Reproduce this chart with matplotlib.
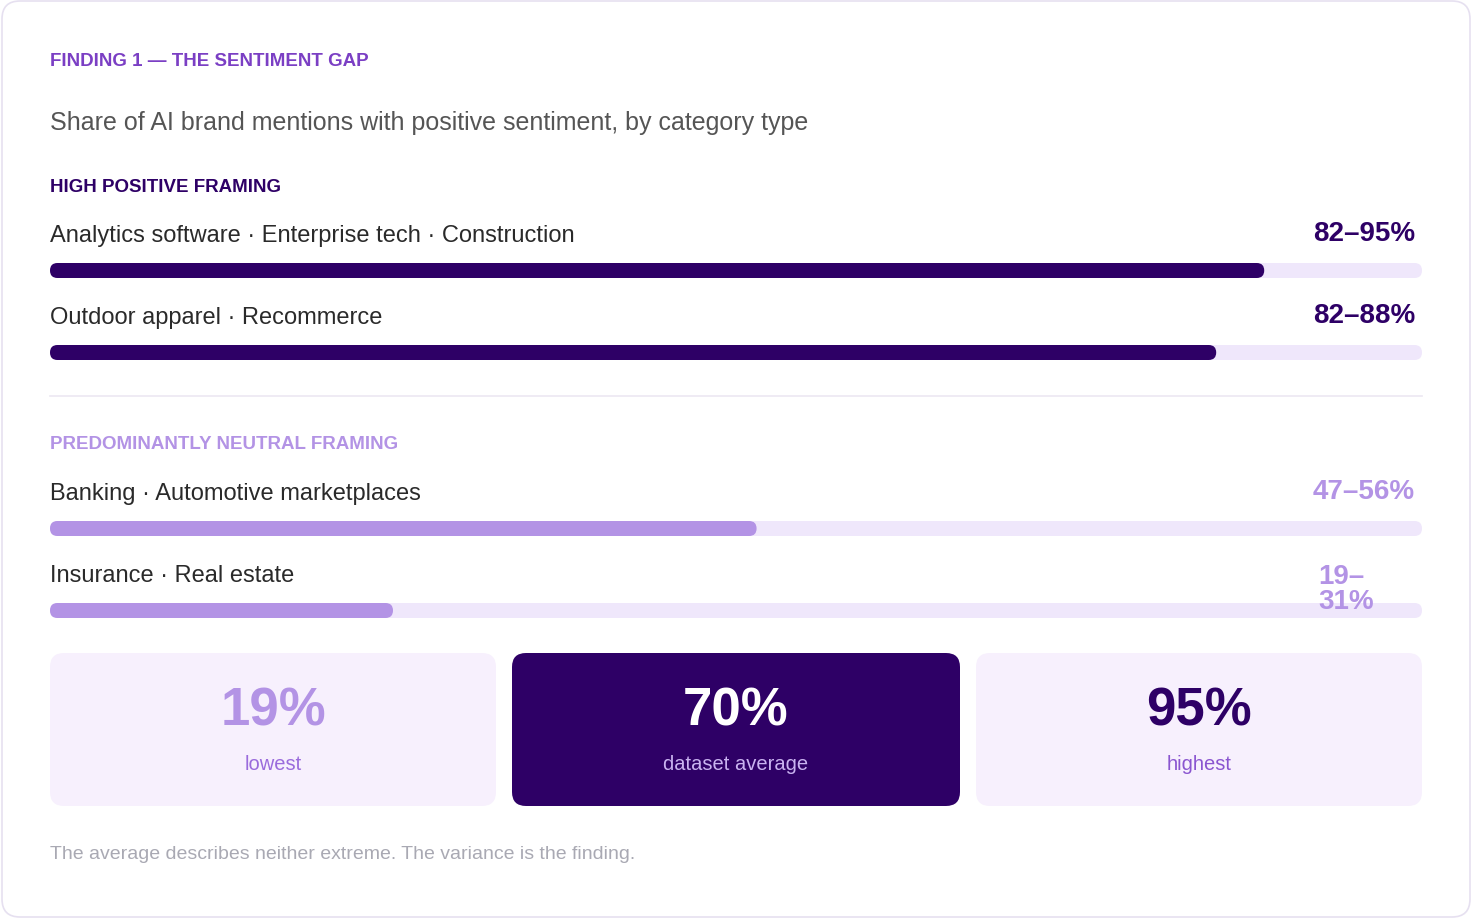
import matplotlib.pyplot as plt
from matplotlib.patches import FancyBboxPatch

plt.rcParams['font.family'] = ['Liberation Sans', 'DejaVu Sans']

# data
groups = ['HIGH POSITIVE FRAMING', 'PREDOMINANTLY NEUTRAL FRAMING']
categories = ['Analytics software · Enterprise tech · Construction',
              'Outdoor apparel · Recommerce',
              'Banking · Automotive marketplaces',
              'Insurance · Real estate']
group_of = [0, 0, 1, 1]
low = [82, 82, 47, 19]
high = [95, 88, 56, 31]
range_labels = ['82–95%', '82–88%', '47–56%', '19–\n31%']
stat_values = ['19%', '70%', '95%']
stat_labels = ['lowest', 'dataset average', 'highest']

DARK = '#2E0066'
LIGHT = '#B393E5'
TRACK = '#EFE7FB'
CARD = '#F7F0FD'
group_colors = [DARK, LIGHT]

fig = plt.figure(figsize=(14.72, 9.2), dpi=100)
ax = fig.add_axes([0, 0, 1, 1])
ax.set_xlim(0, 1472)
ax.set_ylim(920, 0)
ax.axis('off')

ax.add_patch(FancyBboxPatch((2, 2), 1468, 916, boxstyle='round,pad=0,rounding_size=18',
                            fc='white', ec='#E6E0F0', lw=1.2))

ax.text(50, 61, 'FINDING 1 — THE SENTIMENT GAP', color='#7B3FC4', fontsize=13.5,
        fontweight='bold', va='center')
ax.text(50, 123, 'Share of AI brand mentions with positive sentiment, by category type',
        color='#555555', fontsize=18, va='center')

x0, x1 = 50, 1422
width = x1 - x0
group_y = [187, 445]
row_y = [236, 318, 494, 576]
for g, y in zip(groups, group_y):
    ax.text(50, y, g, color=group_colors[groups.index(g)], fontsize=13.5,
            fontweight='bold', va='center')

ax.plot([x0, x1], [397, 397], color='#ECE8F2', lw=1.2)

for i, cat in enumerate(categories):
    c = group_colors[group_of[i]]
    y = row_y[i]
    ax.text(50, y, cat, color='#2A2A2A', fontsize=17, va='center')
    if '\n' in range_labels[i]:
        ax.text(1318, y + 14, range_labels[i], color=c, fontsize=20, fontweight='bold',
                va='center', ha='left', linespacing=0.95)
    else:
        ax.text(1415, y - 2, range_labels[i], color=c, fontsize=20, fontweight='bold',
                va='center', ha='right')
    by = y + 28
    ax.add_patch(FancyBboxPatch((x0, by), width, 15, boxstyle='round,pad=0,rounding_size=7.5',
                                fc=TRACK, ec='none'))
    mid = (low[i] + high[i]) / 2 / 100
    ax.add_patch(FancyBboxPatch((x0, by), width * mid, 15, boxstyle='round,pad=0,rounding_size=7.5',
                                fc=c, ec='none'))

card_x = [50, 512, 976]
card_w = [446, 448, 446]
val_colors = [LIGHT, 'white', DARK]
lab_colors = ['#9A6BDC', '#C9B3F0', '#8A55D0']
for i in range(3):
    fc = DARK if i == 1 else CARD
    ax.add_patch(FancyBboxPatch((card_x[i], 654), card_w[i], 153,
                                boxstyle='round,pad=0,rounding_size=14', fc=fc, ec='none'))
    cx = card_x[i] + card_w[i] / 2
    ax.text(cx, 712, stat_values[i], color=val_colors[i], fontsize=38, fontweight='bold',
            ha='center', va='center')
    ax.text(cx, 765, stat_labels[i], color=lab_colors[i], fontsize=14.5, ha='center', va='center')

ax.text(50, 855, 'The average describes neither extreme. The variance is the finding.',
        color='#A9A9B3', fontsize=14, va='center')

fig.savefig('out.png', dpi=100, facecolor='white')
